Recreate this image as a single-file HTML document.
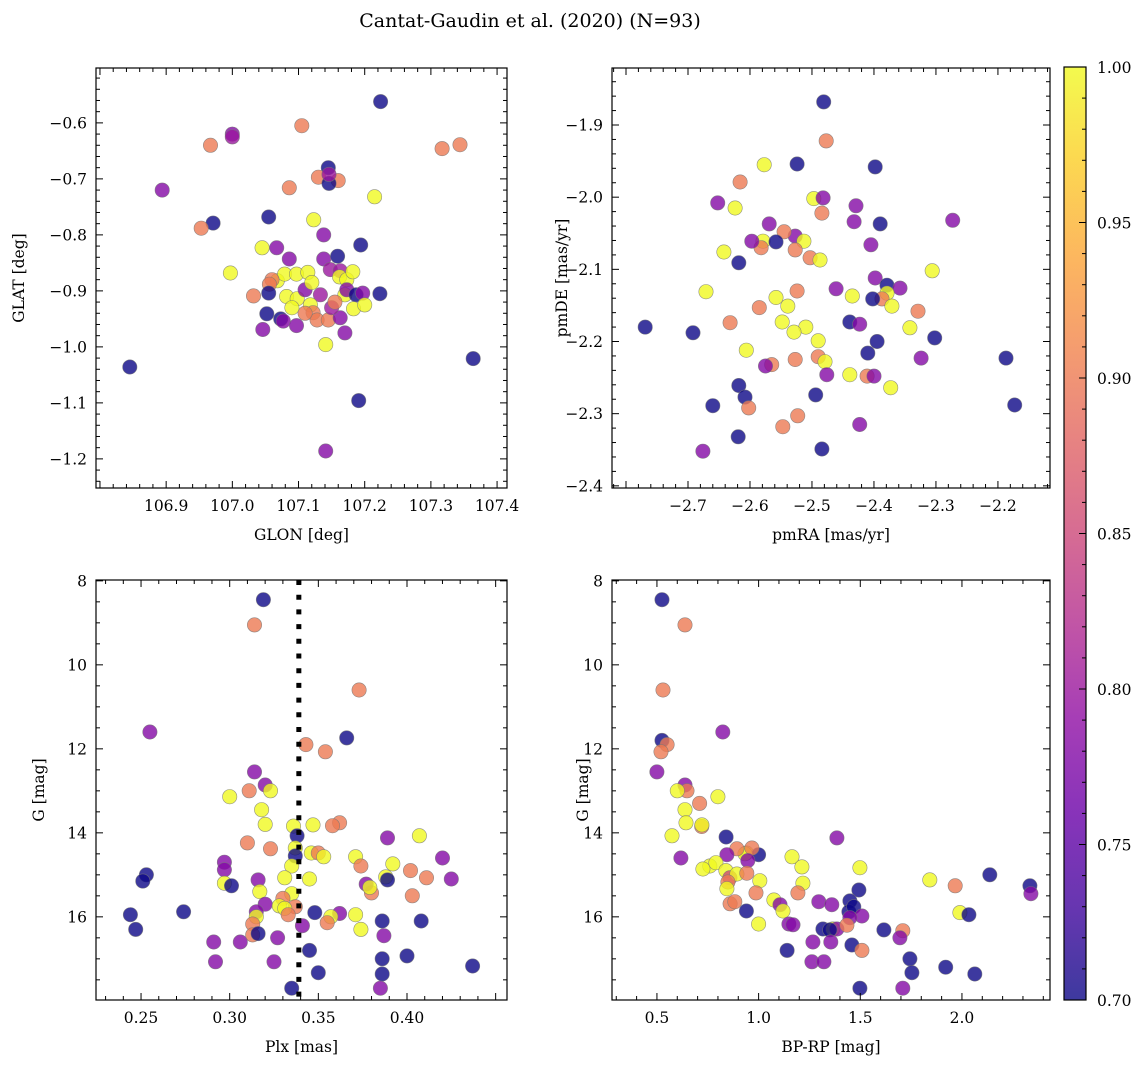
<!DOCTYPE html>
<html><head><meta charset="utf-8">
<style>
html,body{margin:0;padding:0;background:#fff;}
svg{display:block;font-family:"DejaVu Serif","Liberation Serif",serif;}
</style></head>
<body>
<svg id="fig" width="1148" height="1067" viewBox="0 0 1148 1067" xmlns="http://www.w3.org/2000/svg">
<text x="530" y="27" font-size="19" text-anchor="middle">Cantat-Gaudin et al. (2020) (N=93)</text>
</svg>
<script>
// ---- Panel 1: GLON / GLAT ----
const p1Lon = [107.105,107.224,106.967,107.0,107.0,106.894,107.317,107.344,106.971,106.953,107.086,107.145,107.130,107.160,107.146,107.146,107.215,107.055,107.123,107.138,107.045,107.067,107.194,106.997,107.086,107.138,107.159,107.148,107.163,107.068,107.079,107.097,107.114,107.162,107.173,107.182,107.060,107.056,107.032,107.055,107.082,107.098,107.110,107.133,107.118,107.170,107.173,107.187,107.197,107.223,107.183,107.200,107.052,107.073,107.077,107.097,107.122,107.128,107.145,107.163,107.170,107.141,107.364,106.845,107.191,107.141,107.046,107.110,107.150,107.090,107.155,107.120];
const p1Lat = [-0.605,-0.562,-0.640,-0.620,-0.625,-0.720,-0.646,-0.639,-0.779,-0.788,-0.716,-0.680,-0.697,-0.703,-0.708,-0.692,-0.732,-0.768,-0.773,-0.800,-0.823,-0.823,-0.818,-0.868,-0.843,-0.843,-0.838,-0.862,-0.864,-0.882,-0.870,-0.870,-0.867,-0.875,-0.880,-0.866,-0.880,-0.888,-0.909,-0.904,-0.910,-0.914,-0.898,-0.907,-0.925,-0.907,-0.898,-0.907,-0.904,-0.905,-0.932,-0.925,-0.941,-0.950,-0.954,-0.962,-0.939,-0.952,-0.952,-0.948,-0.975,-0.996,-1.021,-1.036,-1.096,-1.186,-0.969,-0.940,-0.930,-0.930,-0.920,-0.885];
const p1Prob = [.9,.7,.9,.78,.8,.78,.9,.9,.7,.9,.9,.7,.9,.9,.7,.8,1,.7,1,.78,1,.78,.7,1,.78,.78,.7,.8,.8,1,1,1,1,1,1,1,.9,.9,.9,.7,1,1,.78,.8,1,1,.78,.7,.78,.7,1,1,.7,.7,.78,.78,.9,.9,.9,.78,.78,1,.7,.7,.7,.78,.78,.9,.8,1,.9,1];

// ---- Panel 2: pmRA / pmDE ----
const p2Pmra = [-2.481,-2.477,-2.524,-2.398,-2.577,-2.616,-2.497,-2.482,-2.484,-2.652,-2.624,-2.429,-2.273,-2.390,-2.432,-2.569,-2.527,-2.545,-2.513,-2.579,-2.582,-2.558,-2.597,-2.642,-2.527,-2.503,-2.487,-2.405,-2.618,-2.306,-2.398,-2.524,-2.379,-2.358,-2.461,-2.671,-2.379,-2.387,-2.402,-2.435,-2.558,-2.539,-2.371,-2.329,-2.585,-2.769,-2.692,-2.548,-2.510,-2.439,-2.423,-2.342,-2.632,-2.529,-2.302,-2.606,-2.490,-2.395,-2.410,-2.187,-2.324,-2.527,-2.490,-2.565,-2.575,-2.479,-2.476,-2.439,-2.411,-2.400,-2.618,-2.373,-2.608,-2.494,-2.602,-2.660,-2.173,-2.523,-2.547,-2.423,-2.619,-2.484,-2.676];
const p2Pmde = [-1.868,-1.922,-1.954,-1.958,-1.955,-1.979,-2.002,-2.001,-2.022,-2.008,-2.015,-2.012,-2.032,-2.037,-2.034,-2.037,-2.054,-2.048,-2.061,-2.061,-2.070,-2.062,-2.061,-2.076,-2.073,-2.084,-2.087,-2.066,-2.091,-2.102,-2.112,-2.130,-2.122,-2.126,-2.127,-2.131,-2.133,-2.141,-2.141,-2.137,-2.139,-2.151,-2.151,-2.158,-2.153,-2.180,-2.188,-2.173,-2.180,-2.173,-2.176,-2.181,-2.174,-2.187,-2.195,-2.212,-2.199,-2.200,-2.216,-2.223,-2.223,-2.225,-2.221,-2.232,-2.234,-2.228,-2.246,-2.246,-2.248,-2.248,-2.261,-2.264,-2.277,-2.274,-2.292,-2.289,-2.288,-2.303,-2.318,-2.315,-2.332,-2.349,-2.352];
const p2Prob = [.7,.9,.7,.7,1,.9,1,.78,.9,.78,1,.78,.78,.7,.78,.78,.78,.9,1,1,.9,.7,.78,1,.9,.9,1,.78,.7,1,.78,.9,.7,.78,.78,1,1,.9,.7,1,1,1,1,.9,.9,.7,.7,1,1,.7,.78,1,.9,1,.7,1,1,.7,.7,.7,.78,.9,.9,.9,.78,1,.78,1,.9,.78,.7,1,.7,.7,.9,.7,.7,.9,.9,.78,.7,.7,.78];

// ---- Panel 3: Plx / G ----
const p3Plx = [0.319,0.314,0.373,0.255,0.366,0.343,0.354,0.314,0.320,0.300,0.311,0.323,0.318,0.320,0.362,0.347,0.358,0.336,0.338,0.389,0.407,0.310,0.323,0.337,0.337,0.346,0.350,0.353,0.371,0.374,0.392,0.420,0.425,0.411,0.402,0.335,0.331,0.345,0.297,0.297,0.297,0.301,0.316,0.317,0.335,0.380,0.377,0.388,0.389,0.379,0.403,0.320,0.330,0.337,0.328,0.253,0.251,0.244,0.247,0.274,0.315,0.315,0.348,0.362,0.371,0.357,0.355,0.386,0.408,0.374,0.387,0.291,0.306,0.313,0.313,0.341,0.316,0.327,0.325,0.292,0.345,0.386,0.400,0.350,0.386,0.335,0.385,0.437,0.331,0.333];
const p3G = [8.45,9.05,10.6,11.6,11.74,11.9,12.07,12.55,12.86,13.14,13.0,13.0,13.45,13.8,13.76,13.81,13.83,13.84,14.07,14.12,14.07,14.24,14.38,14.36,14.55,14.48,14.48,14.57,14.57,14.79,14.74,14.6,15.1,15.07,14.9,14.79,15.07,15.1,14.7,14.88,15.2,15.26,15.12,15.4,15.45,15.43,15.22,15.05,15.12,15.3,15.5,15.7,15.56,15.76,15.74,15.0,15.15,15.95,16.3,15.88,15.88,16.0,15.9,15.92,15.95,16.0,16.14,16.1,16.1,16.3,16.45,16.6,16.6,16.17,16.43,16.21,16.4,16.5,17.07,17.07,16.8,17.0,16.93,17.33,17.36,17.7,17.7,17.17,15.8,15.95];
const p3Prob = [.7,.9,.9,.78,.7,.9,.9,.78,.78,1,.9,1,1,1,.9,1,.9,1,.7,.78,1,.9,.9,1,.7,1,.9,1,1,.9,1,.78,.78,.9,.9,1,1,1,.78,.78,1,.7,.78,1,1,.9,.78,1,.7,1,.9,.78,.9,.9,1,.7,.7,.7,.7,.7,.78,1,.7,.78,1,1,.9,.7,.7,1,.78,.78,.78,.9,.9,.78,.7,.78,.78,.78,.7,.7,.7,.7,.7,.7,.78,.7,1,.9];

// ---- Panel 4: BP-RP / G ----
const p4Bprp = [0.525,0.638,0.530,0.525,0.550,0.520,0.824,0.500,0.638,0.648,0.600,0.800,0.710,0.638,0.720,0.643,0.721,0.574,0.840,1.385,0.940,1.000,0.933,0.893,0.967,0.844,0.947,0.618,1.164,1.213,1.498,0.760,0.726,0.790,0.839,0.859,0.893,2.137,0.849,0.942,1.218,1.842,1.967,2.334,2.339,1.006,0.844,0.860,0.883,0.987,1.193,1.493,1.075,1.105,1.296,1.360,1.449,1.444,1.468,1.508,0.940,1.120,1.449,1.990,2.034,1.000,1.149,1.169,1.316,1.365,1.385,1.350,1.434,1.616,1.709,1.695,1.267,1.355,1.459,1.508,1.140,1.262,1.321,1.744,1.920,1.754,2.063,1.709,1.498];
const p4G = [8.45,9.05,10.6,11.8,11.9,12.07,11.6,12.55,12.86,13.0,13.0,13.14,13.3,13.45,13.85,13.76,13.81,14.07,14.1,14.12,14.48,14.52,14.5,14.38,14.36,14.52,14.66,14.6,14.57,14.81,14.83,14.79,14.86,14.71,14.9,15.07,14.98,15.0,15.17,14.96,15.2,15.12,15.26,15.26,15.45,15.14,15.33,15.69,15.64,15.43,15.43,15.36,15.6,15.71,15.64,15.71,15.62,15.88,15.76,15.98,15.86,15.86,16.02,15.9,15.95,16.17,16.17,16.19,16.29,16.29,16.29,16.31,16.2,16.31,16.33,16.5,16.6,16.6,16.67,16.8,16.8,17.07,17.07,17.0,17.2,17.33,17.36,17.7,17.7];
const p4Prob = [.7,.9,.9,.7,.9,.9,.78,.78,.78,.9,1,1,.9,1,.9,1,1,1,.7,.78,1,.7,1,.9,.9,.78,.78,.78,1,1,1,1,1,1,1,.85,1,.7,.9,.9,1,1,.9,.7,.78,1,1,.9,.9,.9,.9,.7,1,.78,.78,.78,.7,.7,.7,.78,.7,1,.78,1,.7,1,.78,.78,.7,1,.78,.7,.9,.7,.9,.78,.78,.78,.7,.9,.7,.78,.78,.7,.7,.7,.7,.78,.7];

const cbTicks = [0.70,0.75,0.80,0.85,0.90,0.95,1.00];
const dividerPlx = 0.339;

const NS = "http://www.w3.org/2000/svg";
const svg = document.getElementById('fig');
function mk(tag, attrs, parent){ const e=document.createElementNS(NS,tag); for(const k in attrs) e.setAttribute(k,attrs[k]); (parent||svg).appendChild(e); return e; }

const plasma = [[13,8,135],[65,4,157],[106,0,168],[143,13,164],[177,42,144],[204,71,120],[225,100,98],[242,132,75],[252,166,54],[252,206,37],[240,249,33]];
function cmap(t){ t=Math.max(0,Math.min(1,t)); const f=t*10; const i=Math.min(9,Math.floor(f)); const r=f-i; const a=plasma[i],b=plasma[i+1];
  return 'rgb('+a.map((v,k)=>Math.round(v+(b[k]-v)*r)).join(',')+')'; }
function pcol(p){ return cmap((p-0.7)/0.3); }

function fmt(v,d){ return v.toFixed(d).replace('-', '\u2212'); }

function panel(cfg){
  const {x0,y0,x1,y1,xmin,xmax,ymin,ymax,yinv,name} = cfg;
  const sx = v => x0 + (v-xmin)/(xmax-xmin)*(x1-x0);
  const sy = yinv ? (v => y0 + (v-ymin)/(ymax-ymin)*(y1-y0)) : (v => y1 - (v-ymin)/(ymax-ymin)*(y1-y0));
  const g = mk('g',{});
  
  
  const pts = mk('g',{},g);
  
  
  for(let i=0;i<cfg.xs.length;i++){
    const c = mk('circle',{cx:sx(cfg.xs[i]).toFixed(1),cy:sy(cfg.ys[i]).toFixed(1),r:7.2,fill:pcol(cfg.ps[i]),'fill-opacity':0.8,stroke:'#777','stroke-width':0.6,'stroke-opacity':0.8},pts);
    
    
  }
  if(cfg.extra) cfg.extra(g,sx,sy);
  const fr = mk('rect',{x:x0,y:y0,width:x1-x0,height:y1-y0,fill:'none',stroke:'#000','stroke-width':1.2},g);
  
  
  const tk = mk('g',{stroke:'#000','stroke-width':1},g);
  const eps=1e-9;
  for(let v=Math.ceil(xmin/cfg.xminor-eps)*cfg.xminor; v<=xmax+eps; v+=cfg.xminor){
    const X=sx(v); const major = Math.abs(v/cfg.xmajor - Math.round(v/cfg.xmajor))<1e-6; const L=major?7:4;
    mk('line',{x1:X,y1:y1,x2:X,y2:y1-L},tk); mk('line',{x1:X,y1:y0,x2:X,y2:y0+L},tk);
  }
  for(let v=Math.ceil(ymin/cfg.yminor-eps)*cfg.yminor; v<=ymax+eps; v+=cfg.yminor){
    const Y=sy(v); const major = Math.abs(v/cfg.ymajor - Math.round(v/cfg.ymajor))<1e-6; const L=major?7:4;
    mk('line',{x1:x0,y1:Y,x2:x0+L,y2:Y},tk); mk('line',{x1:x1,y1:Y,x2:x1-L,y2:Y},tk);
  }
  cfg.xticks.forEach(v=>{ const t=mk('text',{x:sx(v),y:y1+23,'font-size':15.5,'text-anchor':'middle'},g); t.textContent=fmt(v,cfg.xd);
      });
  cfg.yticks.forEach(v=>{ const t=mk('text',{x:x0-9,y:sy(v)+5.5,'font-size':15.5,'text-anchor':'end'},g); t.textContent=fmt(v,cfg.yd);
      });
  const xl=mk('text',{x:(x0+x1)/2,y:y1+52,'font-size':15.5,'text-anchor':'middle'},g); xl.textContent=cfg.xlabel;
   
  const yl=mk('text',{x:0,y:0,'font-size':15.5,'text-anchor':'middle',transform:`translate(${cfg.ylx},${(y0+y1)/2}) rotate(-90)`},g); yl.textContent=cfg.ylabel;
   
}

panel({name:'glon-glat-panel',x0:96,y0:68,x1:507,y1:488,xmin:106.794,xmax:107.415,ymin:-1.252,ymax:-0.502,
  xs:p1Lon,ys:p1Lat,ps:p1Prob,xminor:0.02,xmajor:0.1,yminor:0.02,ymajor:0.1,
  xticks:[106.9,107.0,107.1,107.2,107.3,107.4],xd:1,yticks:[-1.2,-1.1,-1.0,-0.9,-0.8,-0.7,-0.6],yd:1,
  xlabel:'GLON [deg]',ylabel:'GLAT [deg]',ylx:24});
panel({name:'pm-panel',x0:612,y0:68,x1:1050,y1:488,xmin:-2.8226,xmax:-2.116,ymin:-2.403,ymax:-1.821,
  xs:p2Pmra,ys:p2Pmde,ps:p2Prob,xminor:0.02,xmajor:0.1,yminor:0.02,ymajor:0.1,
  xticks:[-2.7,-2.6,-2.5,-2.4,-2.3,-2.2],xd:1,yticks:[-2.4,-2.3,-2.2,-2.1,-2.0,-1.9],yd:1,
  xlabel:'pmRA [mas/yr]',ylabel:'pmDE [mas/yr]',ylx:567});
panel({name:'plx-g-panel',x0:96,y0:580,x1:507,y1:1000,xmin:0.2246,xmax:0.4564,ymin:7.98,ymax:17.98,yinv:true,
  xs:p3Plx,ys:p3G,ps:p3Prob,xminor:0.01,xmajor:0.05,yminor:0.5,ymajor:2,
  xticks:[0.25,0.30,0.35,0.40],xd:2,yticks:[8,10,12,14,16],yd:0,
  xlabel:'Plx [mas]',ylabel:'G [mag]',ylx:44,
  extra:(g,sx,sy)=>{ const l=mk('line',{x1:sx(dividerPlx),y1:580,x2:sx(dividerPlx),y2:1000,stroke:'#000','stroke-width':5,'stroke-dasharray':'5 9.7'},g);
      }});
panel({name:'cmd-panel',x0:612,y0:580,x1:1050,y1:1000,xmin:0.279,xmax:2.433,ymin:7.98,ymax:17.98,yinv:true,
  xs:p4Bprp,ys:p4G,ps:p4Prob,xminor:0.1,xmajor:0.5,yminor:0.5,ymajor:2,
  xticks:[0.5,1.0,1.5,2.0],xd:1,yticks:[8,10,12,14,16],yd:0,
  xlabel:'BP-RP [mag]',ylabel:'G [mag]',ylx:588});

(function(){
  const cx0=1064,cx1=1086,cy0=67,cy1=1000;
  const defs=mk('defs',{}); const lg=mk('linearGradient',{id:'pl',x1:0,y1:1,x2:0,y2:0},defs);
  plasma.forEach((c,i)=>mk('stop',{offset:i/10,'stop-color':`rgb(${c.join(',')})`},lg));
  const g=mk('g',{});
  
  
  mk('rect',{x:cx0,y:cy0,width:cx1-cx0,height:cy1-cy0,fill:'url(#pl)','fill-opacity':0.8},g);
  mk('rect',{x:cx0,y:cy0,width:cx1-cx0,height:cy1-cy0,fill:'none',stroke:'#000','stroke-width':1.2},g);
  const sy=v=>cy1-(v-0.7)/0.3*(cy1-cy0);
  for(let k=0;k<=30;k++){ const v=0.7+k*0.01; const major=k%5===0; const Y=sy(v);
    mk('line',{x1:cx1,y1:Y,x2:cx1-(major?7:4),y2:Y,stroke:'#000','stroke-width':1},g); }
  cbTicks.forEach(v=>{ const t=mk('text',{x:cx1+11,y:sy(v)+6,'font-size':15.5},g); t.textContent=v.toFixed(2);
      });
})();
</script>
</body></html>
